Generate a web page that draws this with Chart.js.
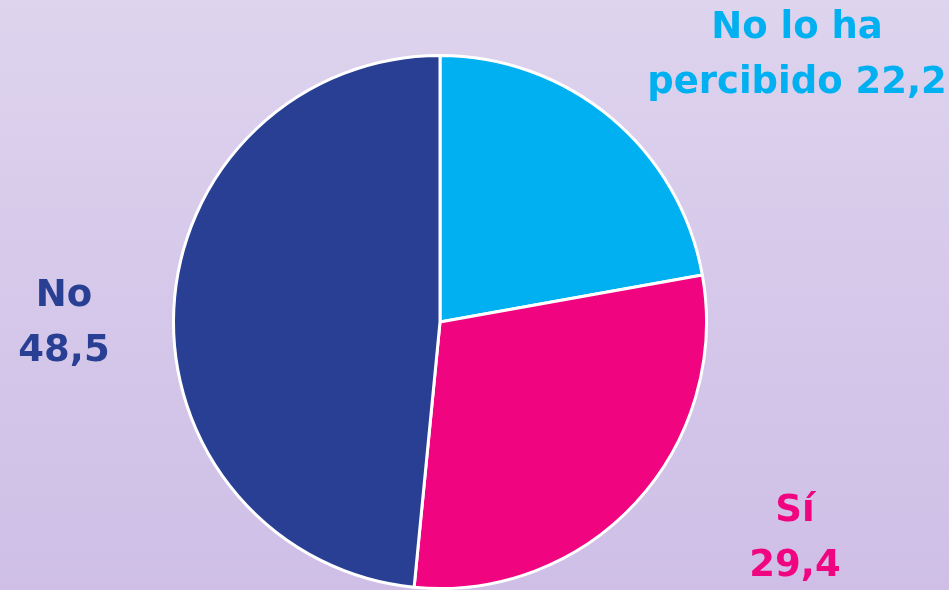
<!DOCTYPE html>
<html><head><meta charset="utf-8">
<script src="https://cdn.jsdelivr.net/npm/chart.js@4/dist/chart.umd.min.js"></script>
<style>
html,body{margin:0;padding:0;}
body{width:949px;height:590px;background:linear-gradient(180deg,#ded4ee 0%,#d6c9ea 45%,#cfbfe7 100%);overflow:hidden;}
#wrap{position:relative;width:949px;height:590px;}
</style></head><body>
<div id="wrap"><canvas id="c" width="949" height="590"></canvas></div>
<script>
const categories = ["No lo ha percibido", "Sí", "No"];
const values = [22.2, 29.4, 48.5];
const valueLabels = ["22,2", "29,4", "48,5"];
const labelLines = [["No lo ha", "percibido 22,2"], ["Sí", "29,4"], ["No", "48,5"]];
const colors = ["#00b0f0", "#f0047f", "#283f93"];
const labelAnchors = [[797, 28], [795, 511], [64, 296]];

const outsideLabels = {
  id: 'outsideLabels',
  afterDraw(chart) {
    const ctx = chart.ctx;
    ctx.save();
    ctx.font = '700 37px "DejaVu Sans", sans-serif';
    ctx.textAlign = 'center';
    ctx.textBaseline = 'middle';
    labelLines.forEach((lines, i) => {
      ctx.fillStyle = colors[i];
      lines.forEach((t, j) => {
        ctx.fillText(t, labelAnchors[i][0], labelAnchors[i][1] + j * 55);
      });
    });
    ctx.restore();
  }
};

new Chart(document.getElementById('c'), {
  type: 'pie',
  data: {
    labels: categories,
    datasets: [{
      data: values,
      backgroundColor: colors,
      borderColor: '#ffffff',
      borderWidth: 3
    }]
  },
  options: {
    responsive: false,
    animation: false,
    layout: { padding: { top: 54, bottom: 0, left: 0, right: 69 } },
    plugins: { legend: { display: false }, tooltip: { enabled: false } }
  },
  plugins: [outsideLabels]
});
</script>
</body></html>
